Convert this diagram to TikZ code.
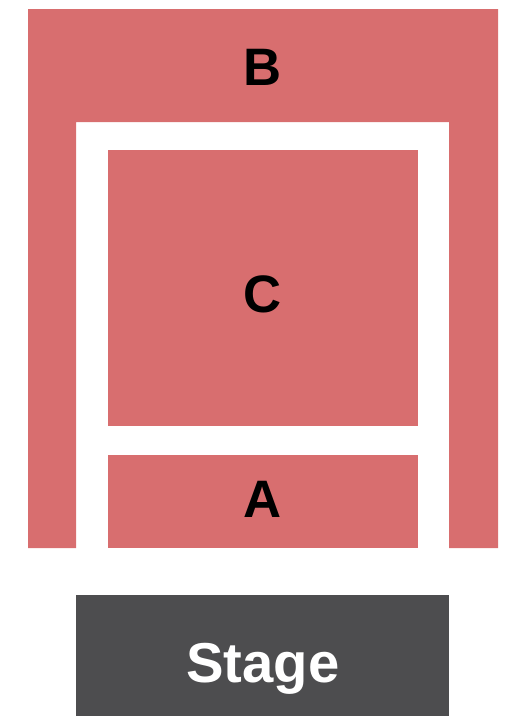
\documentclass[tikz,border=0pt]{standalone}
\usepackage{fontspec}
\setmainfont{Liberation Sans}
\definecolor{seatred}{RGB}{216,110,111}
\definecolor{stagegray}{RGB}{77,77,79}
\tikzset{
  section/.style={fill=seatred, draw=none},
  seclabel/.style={anchor=base, font=\bfseries\fontsize{30}{30}\selectfont, text=black, inner sep=0pt},
}
\begin{document}
\begin{tikzpicture}[x=0.02cm, y=-0.02cm]
\useasboundingbox (0,0) rectangle (525,720);

% section B wraps round the floor
\fill[section] (28,9) -- (498,9) -- (498,548) -- (449,548) -- (449,122)
  -- (76,122) -- (76,548) -- (28,548) -- cycle;
\node[seclabel] (lblB) at (263,85) {B};

% floor sections
\fill[section] (108,150) rectangle (418,426);
\node[seclabel] (lblC) at (263,312) {C};
\fill[section] (108,455) rectangle (418,548);
\node[seclabel] (lblA) at (263,517) {A};

% stage
\fill[stagegray] (76,595) rectangle (449,716);
\node[anchor=base, font=\bfseries\fontsize{32}{32}\selectfont, text=white, inner sep=0pt] (stage) at (263,682) {Stage};

\end{tikzpicture}
\end{document}
